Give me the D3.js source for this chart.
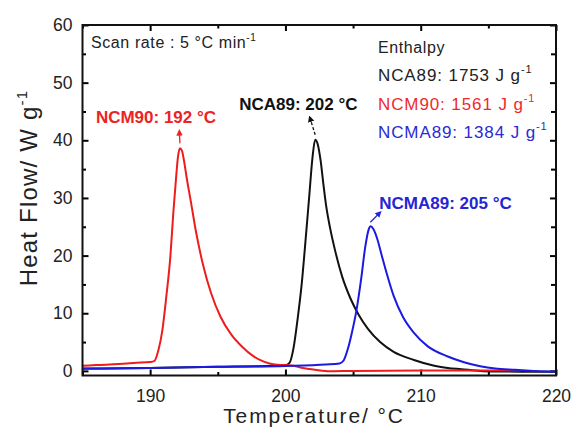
<!DOCTYPE html>
<html><head><meta charset="utf-8">
<script src="https://cdn.jsdelivr.net/npm/d3@7"></script>
<style>body{margin:0;background:#fff}svg{display:block}text{font-family:"Liberation Sans",Arial,sans-serif}</style>
</head><body><svg id="c" width="571" height="432"></svg>
<script>
// ---- data ----
const ncm90T = [185,186,187,188,189,190,190.3,190.6,190.9,191.2,191.5,191.7,191.9,192.05,192.2,192.35,192.5,192.7,193.0,193.4,193.9,194.5,195.2,196.0,196.8,197.6,198.4,199.2,200.0,200.6,201.3,202.2,203.3,205,210,215,217.4];
const ncm90Y = [0.9,1.0,1.1,1.25,1.4,1.55,1.7,3.5,7,13,20,27,33,37,38.6,38.2,36.5,33.5,29.5,24,18.5,13.5,9.4,6.3,4.2,2.6,1.6,1.1,1.0,0.9,0.5,0.2,-0.05,0.0,0.05,0.05,0.05];
const nca89T = [185,190,195,199,200,200.3,200.6,200.9,201.2,201.5,201.75,202.0,202.2,202.4,202.6,202.8,203.0,203.3,203.7,204.2,204.8,205.4,206.1,207.0,208.0,209.5,211,212,213,214.4,216,218,220];
const nca89Y = [0.4,0.5,0.7,0.9,1.0,1.4,4,9,15,23,30,37,40.1,39.2,36.5,32.5,28.8,24.8,20.6,16.3,12.6,9.8,7.3,5.0,3.3,1.9,0.9,0.5,0.3,0.0,-0.1,-0.15,-0.15];
const ncma89T = [185,190,195,200,203,204.0,204.3,204.6,204.9,205.25,205.6,205.9,206.15,206.3,206.5,206.8,207.1,207.5,208.0,208.7,209.5,210.5,212,213.2,214.4,215.5,217,218.5,220];
const ncma89Y = [0.35,0.5,0.7,0.85,1.1,1.3,1.8,3.7,6.5,10.5,16,21.5,24.5,25.1,24.6,22.8,20.2,16.8,13,9.3,6.6,4.3,2.5,1.5,0.8,0.4,0.2,0.0,-0.1];
const xTicks = [190,200,210,220];
const xMinor = [185,195,205,215];
const yTicks = [0,10,20,30,40,50,60];
const yMinor = [5,15,25,35,45,55];
const peaks = [
  {name:"NCM90", label:"NCM90: 192 \u00B0C", t:192.2, v:38.6, color:"#ee2222"},
  {name:"NCA89", label:"NCA89: 202 \u00B0C", t:202.2, v:40.1, color:"#111111"},
  {name:"NCMA89", label:"NCMA89: 205 \u00B0C", t:206.2, v:25.1, color:"#2525d5"}
];
const enthalpy = [
  {name:"NCA89", value:1753, color:"#222222"},
  {name:"NCM90", value:1561, color:"#ee2a2a"},
  {name:"NCMA89", value:1384, color:"#2a2ad5"}
];

// ---- layout ----
const svg = d3.select("#c");
const L=82.5, R=556, T=25, B=375.5;
const x = d3.scaleLinear().domain([185,220]).range([L,R]);
const y = d3.scaleLinear().domain([-0.8,60]).range([B,T]);

function axis(gen, tr, size, vals, labels, pad){
  const g = svg.append("g").attr("transform",tr)
    .call(gen.tickValues(vals).tickSize(size).tickPadding(pad||0).tickFormat(labels?d3.format("d"):()=>""));
  g.select(".domain").remove();
  g.selectAll("line").attr("stroke","#000").attr("stroke-width",2);
  g.selectAll("text").attr("font-size",17.5).attr("fill","#222").style("font-family","'Liberation Sans',Arial,sans-serif");
  return g;
}
axis(d3.axisBottom(x), `translate(0,${B})`, -6, xTicks, true, 14);
axis(d3.axisBottom(x), `translate(0,${B})`, -3.5, xMinor, false);
axis(d3.axisTop(x), `translate(0,${T})`, -6, xTicks, false);
axis(d3.axisTop(x), `translate(0,${T})`, -3.5, xMinor, false);
axis(d3.axisLeft(y), `translate(${L},0)`, -6, yTicks, true, 10);
axis(d3.axisLeft(y), `translate(${L},0)`, -3.5, yMinor, false);
axis(d3.axisRight(y), `translate(${R},0)`, -6, yTicks, false);
axis(d3.axisRight(y), `translate(${R},0)`, -5, yMinor, false);

// ---- curves ----
const line = d3.line().x(d=>x(d[0])).y(d=>y(d[1])).curve(d3.curveMonotoneX);
svg.append("clipPath").attr("id","clp").append("rect").attr("x",L).attr("y",T).attr("width",R-L).attr("height",B-T);
const series = [
  {T:nca89T, Y:nca89Y, c:"#111111"},
  {T:ncma89T, Y:ncma89Y, c:"#1a1ae0"},
  {T:ncm90T, Y:ncm90Y, c:"#ee1c1c"}
];
[series[0], series[2], series[1]].forEach(s=>{
  svg.append("path").attr("clip-path","url(#clp)")
    .attr("d", line(s.T.map((t,i)=>[t,s.Y[i]])))
    .attr("fill","none").attr("stroke",s.c).attr("stroke-width",2);
});

// frame
svg.append("rect").attr("x",L).attr("y",T).attr("width",R-L).attr("height",B-T)
  .attr("fill","none").attr("stroke","#111").attr("stroke-width",2);

// ---- annotations ----
const defs = svg.append("defs");
peaks.forEach((p,i)=>{
  defs.append("marker").attr("id","ah"+i).attr("viewBox","0 0 10 10").attr("refX",5).attr("refY",5)
    .attr("markerWidth",5).attr("markerHeight",6).attr("orient","auto")
    .append("path").attr("d","M0,0 L10,5 L0,10 z").attr("fill",p.color);
});
const arrows = [
  {dx0:0, dy0:-5, dx1:-0.5, dy1:-16},
  {dx0:0, dy0:-5, dx1:-5, dy1:-21},
  {dx0:1, dy0:-4, dx1:10, dy1:-13}
];
const labelPos = [
  {dx:-84, dy:-25},
  {dx:-76, dy:-30},
  {dx:10, dy:-17}
];
peaks.forEach((p,i)=>{
  const px=x(p.t), py=y(p.v), a=arrows[i];
  svg.append("line").attr("x1",px+a.dx0).attr("y1",py+a.dy0).attr("x2",px+a.dx1).attr("y2",py+a.dy1)
    .attr("stroke",p.color).attr("stroke-width",1.3).attr("stroke-dasharray", i===1?"3,2":null)
    .attr("marker-end",`url(#ah${i})`);
  svg.append("text").attr("x",px+labelPos[i].dx).attr("y",py+labelPos[i].dy)
    .attr("font-size",17).attr("font-weight","bold").attr("fill",p.color).text(p.label);
});

// scan rate
const sr = svg.append("text").attr("x",91).attr("y",48).attr("font-size",16).attr("fill","#222").attr("letter-spacing",0.6);
sr.append("tspan").text("Scan rate : 5 \u00B0C min");
sr.append("tspan").attr("font-size",10).attr("dy",-7).text("-1");

// enthalpy block
svg.append("text").attr("x",378).attr("y",53).attr("font-size",16).attr("fill","#222").attr("letter-spacing",0.6).text("Enthalpy");
enthalpy.forEach((e,i)=>{
  const t = svg.append("text").attr("x",378).attr("y",81+i*28.7).attr("font-size",17).attr("fill",e.color).attr("letter-spacing",0.9);
  t.append("tspan").text(`${e.name}: ${e.value} J g`);
  t.append("tspan").attr("font-size",11).attr("dy",-8).text("-1");
});

// axis titles
svg.append("text").attr("x",314).attr("y",423).attr("text-anchor","middle").attr("font-size",21)
  .attr("letter-spacing",1.9).attr("fill","#222").text("Temperature/ \u00B0C");
const yl = svg.append("text").attr("transform","translate(37,188) rotate(-90)").attr("text-anchor","middle")
  .attr("font-size",24).attr("letter-spacing",1.2).attr("fill","#222");
yl.append("tspan").text("Heat Flow/ W g");
yl.append("tspan").attr("font-size",15).attr("dy",-10).text("-1");
</script></body></html>
